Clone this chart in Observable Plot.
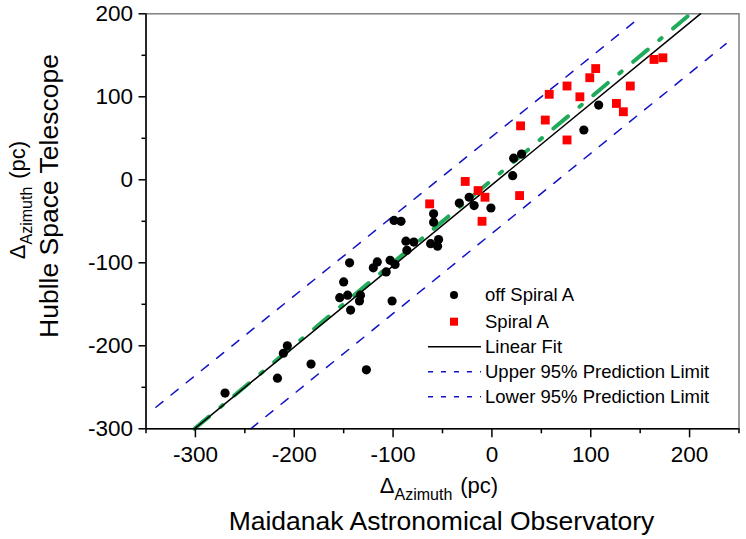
<!DOCTYPE html>
<html>
<head>
<meta charset="utf-8">
<script src="https://cdn.jsdelivr.net/npm/d3@7"></script>
<script src="https://cdn.jsdelivr.net/npm/@observablehq/plot@0.6"></script>
<style>
  html, body { margin: 0; padding: 0; background: #fff; }
  #chart { width: 746px; height: 539px; }
</style>
</head>
<body>
<div id="chart"></div>
<script>
// ---- data ----
const xDomain = [-350, 250];
const yDomain = [-300, 200];
const xTicks = [-300, -200, -100, 0, 100, 200];
const xMinor = [-350, -250, -150, -50, 50, 150, 250];
const yTicks = [-300, -200, -100, 0, 100, 200];
const yMinor = [-250, -150, -50, 50, 150];

// off Spiral A (black circles)
const offX = [-270, -217, -207, -211, -183, -127, -144, -150, -154, -146, -143, -133, -134, -120, -116, -107, -101, -103, -98, -99, -92, -87, -79, -86, -59, -59, -62, -55, -54, -33, -23, -18, -1, 22, 30, 21, 93, 108];
const offY = [-257, -239, -200, -209, -222, -229, -100, -123, -142, -139, -157, -139, -146, -106, -99, -111, -146, -97, -102, -49, -50, -74, -75, -85, -41, -51, -77, -80, -72, -28, -21, -31, -34, 26, 31, 5, 60, 90];

// Spiral A (red squares)
const spX = [-63, -27, -14, -7, -10, 28, 29, 54, 58, 76, 76, 89, 99, 105, 126, 133, 140, 164, 173];
const spY = [-29, -2, -13, -21, -50, -19, 65, 72, 103, 113, 48, 100, 123, 134, 92, 82, 113, 145, 147];

// lines (end points)
const fitX = [-301, 211];
const fitY = [-300, 200];
const idX = [-301, 201];
const idY = [-300, 200];
const upperX = [-340, 148];
const upperY = [-274, 194];
const lowerX = [-244, 237];
const lowerY = [-300, 164];

const legendLabels = ["off Spiral A", "Spiral A", "Linear Fit", "Upper 95% Prediction Limit", "Lower 95% Prediction Limit"];

const FONT = "Liberation Sans, Arial, Helvetica, sans-serif";
const fmt = d => String(d);
const blue = "#1212c4";
const green = "#1fab5a";

const offData = offX.map((x, i) => [x, offY[i]]);
const spData = spX.map((x, i) => [x, spY[i]]);

const plot = Plot.plot({
  width: 746,
  height: 539,
  marginLeft: 145.5,
  marginRight: 7.5,
  marginTop: 13.3,
  marginBottom: 110.7,
  style: { fontFamily: FONT, color: "#000", background: "#fff", overflow: "visible" },
  x: { domain: xDomain, label: null },
  y: { domain: yDomain, label: null },
  marks: [
    Plot.frame({ stroke: "#808080", strokeWidth: 1.5 }),
    Plot.line(d3.zip(upperX, upperY), { stroke: blue, strokeWidth: 1.5, strokeDasharray: "9,10.5" }),
    Plot.line(d3.zip(lowerX, lowerY), { stroke: blue, strokeWidth: 1.5, strokeDasharray: "9,10.5" }),
    Plot.line(d3.zip(idX, idY), { stroke: green, strokeWidth: 4, strokeDasharray: "19,15,3,15" }),
    Plot.line(d3.zip(fitX, fitY), { stroke: "#000", strokeWidth: 1.5 }),
    Plot.dot(offData, { r: 4.6, fill: "#000", stroke: "none" }),
    Plot.dot(spData, { symbol: "square", r: 5, fill: "#ff0000", stroke: "none" }),
    Plot.ruleY([yDomain[0]], { stroke: "#000", strokeWidth: 1.5 }),
    Plot.ruleX([xDomain[0]], { stroke: "#000", strokeWidth: 1.5 }),
    Plot.axisX(xTicks, { tickSize: 9, tickPadding: 8, fontSize: 22.5, tickFormat: fmt, label: null, strokeWidth: 1.5 }),
    Plot.axisX(xMinor, { tickSize: 5, text: null, label: null, strokeWidth: 1.5 }),
    Plot.axisY(yTicks, { tickSize: 7, tickPadding: 6, fontSize: 22.5, tickFormat: fmt, label: null, strokeWidth: 1.5 }),
    Plot.axisY(yMinor, { tickSize: 4, text: null, label: null, strokeWidth: 1.5 })
  ]
});

document.getElementById("chart").appendChild(plot);

const svg = d3.select(plot);

// x axis titles
const xt = svg.append("text")
  .attr("x", 439).attr("y", 493)
  .attr("text-anchor", "middle")
  .attr("font-family", FONT).attr("font-size", 22).attr("fill", "#000");
xt.append("tspan").text("Δ");
xt.append("tspan").attr("font-size", 16).attr("dy", 7).text("Azimuth");
xt.append("tspan").attr("dy", -7).attr("dx", 8).text("(pc)");

svg.append("text")
  .attr("x", 441.5).attr("y", 530)
  .attr("text-anchor", "middle")
  .attr("font-family", FONT).attr("font-size", 26.5).attr("fill", "#000")
  .text("Maidanak Astronomical Observatory");

// y axis titles
const yt = svg.append("text")
  .attr("transform", "translate(25,200) rotate(-90)")
  .attr("text-anchor", "middle")
  .attr("font-family", FONT).attr("font-size", 22).attr("fill", "#000");
yt.append("tspan").text("Δ");
yt.append("tspan").attr("font-size", 16).attr("dy", 7).text("Azimuth");
yt.append("tspan").attr("dy", -7).attr("dx", 8).text("(pc)");

svg.append("text")
  .attr("transform", "translate(58,196) rotate(-90)")
  .attr("text-anchor", "middle")
  .attr("font-family", FONT).attr("font-size", 26.5).attr("fill", "#000")
  .text("Hublle Space Telescope");

// legend
const lg = svg.append("g").attr("font-family", FONT).attr("font-size", 18.5).attr("text-anchor", "start");
const rowY = [295, 321.7, 346.7, 371.7, 396.7];
const symX = 454, lineX0 = 428, lineX1 = 481, textX = 485;
lg.append("circle").attr("cx", symX).attr("cy", rowY[0]).attr("r", 4).attr("fill", "#000");
lg.append("rect").attr("x", symX - 4).attr("y", rowY[1] - 4).attr("width", 8).attr("height", 8).attr("fill", "#ff0000");
lg.append("line").attr("x1", lineX0).attr("x2", lineX1).attr("y1", rowY[2]).attr("y2", rowY[2]).attr("stroke", "#000").attr("stroke-width", 1.5);
lg.append("line").attr("x1", lineX0).attr("x2", lineX1).attr("y1", rowY[3]).attr("y2", rowY[3]).attr("stroke", blue).attr("stroke-width", 1.5).attr("stroke-dasharray", "5,8");
lg.append("line").attr("x1", lineX0).attr("x2", lineX1).attr("y1", rowY[4]).attr("y2", rowY[4]).attr("stroke", blue).attr("stroke-width", 1.5).attr("stroke-dasharray", "5,8");
legendLabels.forEach((t, i) => {
  lg.append("text").attr("x", textX).attr("y", rowY[i]).attr("dy", "0.35em").attr("text-anchor", "start").attr("fill", "#000").text(t);
});
</script>
</body>
</html>
